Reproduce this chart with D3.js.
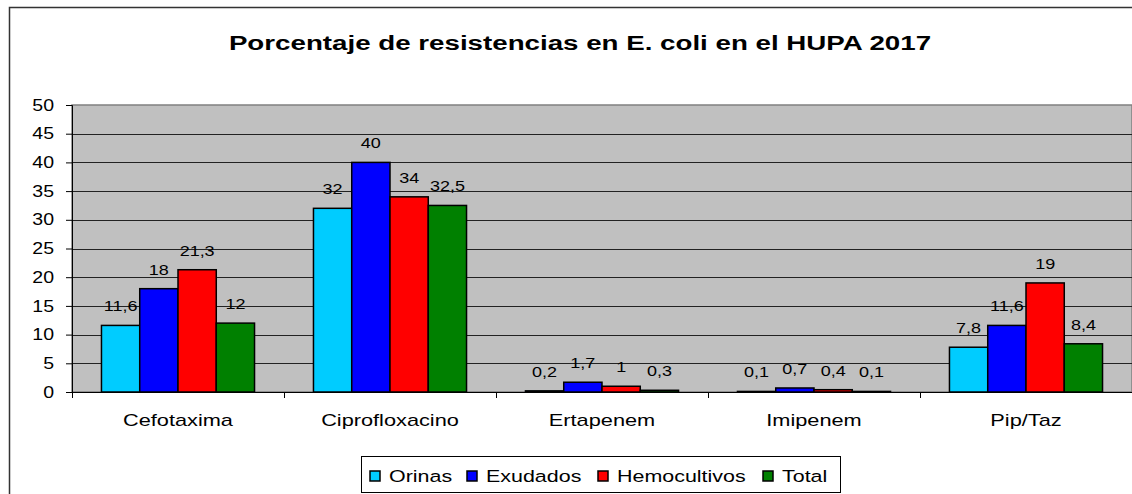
<!DOCTYPE html>
<html>
<head>
<meta charset="utf-8">
<script src="https://cdn.jsdelivr.net/npm/d3@7"></script>
<style>
  body { margin: 0; background: #fff; }
  svg { display: block; font-family: "Liberation Sans", Arial, sans-serif; }
</style>
</head>
<body>
<script>
// chart data
var categories = ["Cefotaxima", "Ciprofloxacino", "Ertapenem", "Imipenem", "Pip/Taz"];
var seriesNames = ["Orinas", "Exudados", "Hemocultivos", "Total"];
var orinas = [11.6, 32, 0.2, 0.1, 7.8];
var exudados = [18, 40, 1.7, 0.7, 11.6];
var hemocultivos = [21.3, 34, 1, 0.4, 19];
var total = [12, 32.5, 0.3, 0.1, 8.4];
var yTicks = [0, 5, 10, 15, 20, 25, 30, 35, 40, 45, 50];
var labelText = [
  ["11,6", "32", "0,2", "0,1", "7,8"],
  ["18", "40", "1,7", "0,7", "11,6"],
  ["21,3", "34", "1", "0,4", "19"],
  ["12", "32,5", "0,3", "0,1", "8,4"]
];
var colors = ["#00ccff", "#0000ff", "#ff0000", "#008000"];

var seriesValues = [orinas, exudados, hemocultivos, total];

var width = 1132, height = 494;
var plot = {left: 72, right: 1132, top: 105, bottom: 392};

// the original text is drawn wider than normal, so stretch it horizontally
function stretch(sel, k) {
  sel.each(function() {
    var t = d3.select(this);
    var x = +t.attr("x") || 0, y = +t.attr("y") || 0;
    t.attr("x", 0).attr("y", 0)
     .attr("transform", "translate(" + x + "," + y + ") scale(" + k + ",1)");
  });
}

var svg = d3.select("body").append("svg")
  .attr("width", width)
  .attr("height", height);

// outer chart border
svg.append("rect")
  .attr("x", 9.5).attr("y", 7.5)
  .attr("width", 1140).attr("height", 500)
  .attr("fill", "#fff")
  .attr("stroke", "#333")
  .attr("stroke-width", 1.5);

// title
var title = svg.append("text")
  .attr("x", 580).attr("y", 50)
  .attr("text-anchor", "middle")
  .style("font-size", "21px")
  .style("font-weight", "bold")
  .text("Porcentaje de resistencias en E. coli en el HUPA 2017");
stretch(title, 1.32);

// scales
var x0 = d3.scaleBand()
  .domain(categories)
  .range([plot.left, plot.right])
  .paddingInner(0)
  .paddingOuter(0);

var x1 = d3.scaleBand()
  .domain(seriesNames)
  .range([0, x0.bandwidth()])
  .paddingOuter(0.77)
  .paddingInner(0);

var y = d3.scaleLinear()
  .domain([0, 50])
  .range([plot.bottom, plot.top]);

// plot background
svg.append("rect")
  .attr("x", plot.left).attr("y", plot.top)
  .attr("width", plot.right - plot.left)
  .attr("height", plot.bottom - plot.top)
  .attr("fill", "#c0c0c0")
  .attr("stroke", "#808080")
  .attr("stroke-width", 1.5);

// gridlines
svg.append("g")
  .selectAll("line")
  .data(yTicks.filter(function(d) { return d > 0 && d < 50; }))
  .enter().append("line")
  .attr("x1", plot.left).attr("x2", plot.right)
  .attr("y1", function(d) { return Math.round(y(d)) + 0.5; })
  .attr("y2", function(d) { return Math.round(y(d)) + 0.5; })
  .attr("stroke", "#222")
  .attr("stroke-width", 1);

// y axis
var yAxis = svg.append("g")
  .attr("transform", "translate(" + plot.left + ",0)")
  .call(d3.axisLeft(y).tickValues(yTicks).tickSize(6).tickPadding(12)
    .tickFormat(function(d) { return d; }));
yAxis.select(".domain").attr("stroke", "#000");
yAxis.selectAll(".tick line").attr("stroke", "#000");
yAxis.selectAll("text")
  .style("font-size", "16px")
  .style("font-family", "'Liberation Sans', Arial, sans-serif")
  .attr("fill", "#000");
stretch(yAxis.selectAll("text"), 1.22);

// x axis
var xAxis = svg.append("g")
  .attr("transform", "translate(0," + plot.bottom + ")")
  .call(d3.axisBottom(x0).tickSize(0).tickPadding(23));
xAxis.select(".domain").attr("stroke", "#000");
xAxis.selectAll("text")
  .style("font-size", "16px")
  .style("font-family", "'Liberation Sans', Arial, sans-serif")
  .attr("fill", "#000");
stretch(xAxis.selectAll("text"), 1.36);

// category boundary ticks
svg.append("g")
  .selectAll("line")
  .data(categories)
  .enter().append("line")
  .attr("x1", function(d) { return Math.round(x0(d)) + 0.5; })
  .attr("x2", function(d) { return Math.round(x0(d)) + 0.5; })
  .attr("y1", plot.bottom)
  .attr("y2", plot.bottom + 6)
  .attr("stroke", "#000");

// bars
var rows = [];
categories.forEach(function(c, ci) {
  seriesNames.forEach(function(s, si) {
    rows.push({cat: c, series: s, si: si, value: seriesValues[si][ci], label: labelText[si][ci]});
  });
});

svg.append("g")
  .selectAll("rect")
  .data(rows)
  .enter().append("rect")
  .attr("x", function(d) { return x0(d.cat) + x1(d.series); })
  .attr("y", function(d) { return y(d.value); })
  .attr("width", x1.bandwidth())
  .attr("height", function(d) { return y(0) - y(d.value); })
  .attr("fill", function(d) { return colors[d.si]; })
  .attr("stroke", "#000")
  .attr("stroke-width", 1.5);

// data labels
var labels = svg.append("g")
  .selectAll("text")
  .data(rows)
  .enter().append("text")
  .attr("x", function(d) { return x0(d.cat) + x1(d.series) + x1.bandwidth() / 2; })
  .attr("y", function(d) { return y(d.value) - 14; })
  .attr("text-anchor", "middle")
  .style("font-size", "15px")
  .attr("fill", "#000")
  .text(function(d) { return d.label; });
stretch(labels, 1.2);

// legend
var legend = svg.append("g");
legend.append("rect")
  .attr("x", 361.5).attr("y", 456.5)
  .attr("width", 479).attr("height", 36)
  .attr("fill", "#fff")
  .attr("stroke", "#000")
  .attr("stroke-width", 1);

var legendX = [370, 467, 598, 763];
var item = legend.selectAll(".item")
  .data(seriesNames)
  .enter().append("g")
  .attr("class", "item")
  .attr("transform", function(d, i) { return "translate(" + legendX[i] + ",476)"; });

item.append("rect")
  .attr("x", 0).attr("y", -5)
  .attr("width", 10).attr("height", 10)
  .attr("fill", function(d, i) { return colors[i]; })
  .attr("stroke", "#000")
  .attr("stroke-width", 1.5);

var legendText = item.append("text")
  .attr("x", 19).attr("y", 6)
  .style("font-size", "16.5px")
  .attr("fill", "#000")
  .text(function(d) { return d; });
stretch(legendText, 1.3);
</script>
</body>
</html>
